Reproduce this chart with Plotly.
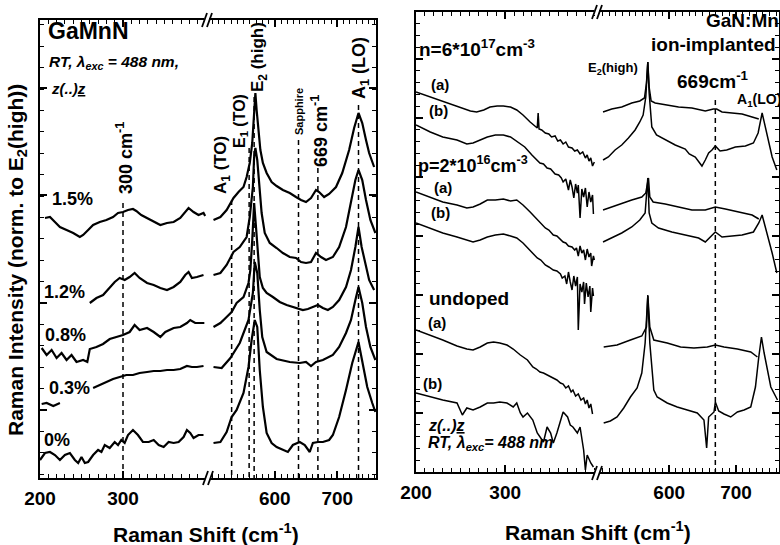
import plotly.graph_objects as go

FONT = "Liberation Sans, Arial, Helvetica, sans-serif"
W, H = 780, 545

# ---------------- Left panel: GaMnN, Mn content series ----------------
# x in cm^-1, intensity in arbitrary units (spectra offset vertically)
gm15_x1 = [206,212,218,224,232,240,248,252,258,264,272,280,288,294,300,306,312,316,322,329,337,345,353,361,369,375,379,385,391,397,399]
gm15_y1 = [260,261,256,251,248,245,241,243,248,253,256,258,261,265,266,268,269,267,263,260,256,253,255,256,260,266,270,266,263,265,262]
gm15_x2 = [502,513,523,529,534,542,550,555,560,564,567,569,571,574,577,581,587,595,603,613,624,634,642,650,658,666,671,679,687,698,708,719,727,734,740,746,751,759]
gm15_y2 = [258,261,268,275,280,286,291,301,315,335,368,385,368,345,328,315,305,296,292,288,285,281,278,276,280,288,286,281,284,291,305,328,350,365,355,338,325,311]

gm12_x1 = [260,268,276,284,290,296,302,308,314,320,329,337,345,353,361,369,375,379,383,389,397]
gm12_y1 = [175,180,183,190,196,200,198,201,205,200,195,193,190,188,191,196,203,206,200,201,203]
gm12_x2 = [502,513,523,529,534,544,555,560,565,567,569,572,575,579,584,592,603,613,624,634,642,650,658,666,674,682,693,703,714,722,729,734,740,746,753,761]
gm12_y2 = [203,205,213,221,226,231,241,261,291,321,330,318,291,265,245,235,230,225,221,220,216,215,216,225,221,218,221,231,251,278,298,308,298,278,258,245]

gm08_x1 = [202,208,214,220,226,232,238,244,252,257,260,268,276,284,292,300,308,314,320,329,337,345,351,361,369,377,381,387,398]
gm08_y1 = [130,123,128,120,125,118,123,116,118,116,129,131,134,139,141,143,146,153,148,150,146,141,146,150,151,155,158,155,155]
gm08_x2 = [502,513,523,531,539,550,558,561,564,567,570,574,576,581,587,597,608,619,629,637,645,653,661,669,677,685,693,703,714,722,729,734,739,746,751,759]
gm08_y2 = [151,155,161,166,175,181,195,208,238,275,251,215,201,190,185,181,176,173,171,170,168,169,171,173,170,168,171,178,191,208,231,251,231,211,198,188]

gm03_x1 = [202,208,216,224,None,264,272,280,288,296,304,312,320,329,337,345,353,361,369,377,383,389,397]
gm03_y1 = [74,75,72,75,None,90,93,96,99,101,103,103,105,106,107,107,108,108,109,112,111,111,112]
gm03_x2 = [502,515,529,544,558,565,568,572,576,580,587,603,624,640,650,658,666,677,693,703,714,722,729,734,740,746,753,761]
gm03_y2 = [111,110,120,135,158,185,216,205,168,141,126,119,116,115,116,112,116,118,123,131,145,158,178,191,175,151,131,118]

gm00_x1 = [200,206,212,218,224,230,236,242,246,250,254,258,264,270,274,278,284,290,294,298,302,306,312,318,324,331,337,343,349,355,361,367,373,377,381,385,391,397]
gm00_y1 = [18,25,26,23,18,23,25,18,15,21,15,16,23,28,26,33,30,36,33,38,35,43,48,43,36,36,38,33,31,36,35,36,41,48,45,40,43,43]
gm00_x2 = [502,513,523,531,539,550,558,563,568,572,576,581,587,595,603,613,621,629,640,648,656,661,669,677,687,693,703,714,724,734,740,748,756,761]
gm00_y2 = [35,36,46,61,68,85,111,138,158,151,108,71,45,35,31,28,26,33,36,33,26,35,36,36,38,43,61,88,115,136,118,91,75,66]

gm_labels = ["1.5%", "1.2%", "0.8%", "0.3%", "0%"]
gm_lines_lo = [300]
gm_lines_hi = [531, 559, 567, 638, 669, 734]
gm_lines_lo_top = [275]
gm_lines_hi_top = [278, 330, 381, 338, 310, 373]

# ---------------- Right panel: GaN:Mn ion-implanted ----------------
na_x1 = [200,216,230,246,261,268,276,283,291,298,306,313,320,328,336,337,338,341,345,349,352,356,359,362,365,368,371,375,378,381,384,387,390,392,394,396,398,400]
na_y1 = [380,375,370,365,361,360,362,365,366,366,365,362,357,350,344,359,343,342,339,338,335,336,331,332,328,330,325,324,321,322,318,320,314,317,311,314,306,310]
na_x2 = [501,514,529,544,556,563,566,568,570,573,579,594,614,634,654,666,671,679,694,709,724,734]
na_y2 = [360,363,365,369,371,374,389,410,385,371,369,367,365,364,361,363,363,360,359,358,355,353]

nb_x1 = [200,216,230,246,257,264,272,280,289,298,306,313,322,330,339,343,347,351,356,360,363,365,368,371,373,375,377,379,381,382,384,386,388,390,392,394,396,398,399]
nb_y1 = [347,340,335,332,328,329,332,335,337,337,335,331,325,317,309,308,304,303,298,297,294,290,293,282,292,285,274,288,279,287,254,283,275,284,265,280,270,277,258]
nb_x2 = [501,509,519,529,539,549,556,561,565,568,570,574,581,594,609,624,630,639,644,649,654,659,664,669,676,686,699,714,726,733,739,744,749,754,761]
nb_y2 = [312,315,322,327,334,342,350,357,375,410,379,345,337,332,327,323,318,315,311,306,312,319,322,326,321,322,325,326,329,339,359,345,329,315,302]

pa_x1 = [200,216,230,246,257,264,272,280,289,298,306,313,320,328,336,340,345,349,354,358,362,365,368,371,375,378,380,382,384,386,388,390,392,394,396,397,399,400]
pa_y1 = [280,275,270,267,264,265,268,272,272,273,271,272,267,260,252,249,244,242,237,236,232,230,229,226,225,222,224,216,226,219,222,212,223,215,219,206,216,212]
pa_x2 = [501,514,529,544,559,565,569,571,576,594,614,634,654,669,684,704,724,734]
pa_y2 = [262,265,269,272,275,279,294,275,270,268,265,262,262,265,263,260,257,253]

pb_x1 = [200,216,230,246,257,264,272,280,289,298,306,313,320,328,336,340,345,349,354,358,362,364,367,369,371,373,375,377,379,381,382,384,386,388,389,391,393,395,396,398,399]
pb_y1 = [249,244,239,235,232,230,232,235,237,238,236,234,229,222,214,212,207,205,202,201,198,194,196,188,200,190,182,196,186,195,142,188,180,190,168,189,175,186,160,184,176]
pb_x2 = [501,514,529,544,556,564,568,570,574,584,604,624,644,654,669,679,694,709,726,734,739,744,749,754,761]
pb_y2 = [230,234,239,245,252,259,294,259,249,244,240,237,234,230,240,235,236,237,240,249,257,245,232,219,199]

ua_x1 = [200,216,230,246,257,264,272,280,287,294,302,309,317,325,331,335,339,343,347,351,354,358,362,365,368,371,374,376,379,382,385,388,390,392,394,396,398]
ua_y1 = [142,137,132,126,123,122,125,129,130,129,127,123,117,112,105,103,100,99,97,95,94,92,89,88,84,86,80,82,76,78,72,74,68,72,64,68,58]
ua_x2 = [502,522,542,559,566,568,571,577,597,617,637,657,669,682,702,722,732]
ua_y2 = [125,127,132,136,145,177,145,132,129,125,124,125,127,125,123,120,115]

ub_x1 = [200,208,219,230,246,252,257,264,272,280,287,294,302,309,313,317,320,325,331,336,343,347,351,354,358,362,365,370,373,376,381,384,388,390,392,396,399]
ub_y1 = [79,77,75,72,69,57,64,62,65,69,69,70,69,65,69,59,55,59,52,39,30,45,39,29,39,52,60,55,47,45,39,45,22,2,17,9,5]
ub_x2 = [502,512,522,532,542,552,559,564,568,571,577,582,597,612,627,642,652,656,659,667,669,674,682,692,702,712,722,729,734,738,742,752,762]
ub_y2 = [49,51,55,64,75,84,99,129,176,129,82,75,69,65,62,59,52,24,55,60,70,61,58,55,60,62,65,85,115,135,119,85,72]

imp_line = [669]
imp_line_top = [372]

# ---------------- figure ----------------
fig = go.Figure()

def add(xs, ys, xa, ya, width):
    fig.add_trace(go.Scatter(x=xs, y=ys, xaxis=xa, yaxis=ya, mode="lines",
                             line=dict(color="black", width=width),
                             showlegend=False, hoverinfo="skip", connectgaps=False))

def dashed(xs, tops, xa, ya):
    for xv, tv in zip(xs, tops):
        fig.add_trace(go.Scatter(x=[xv, xv], y=[tv, 0], xaxis=xa, yaxis=ya, mode="lines",
                                 line=dict(color="black", width=1.5, dash="5px,4px"),
                                 showlegend=False, hoverinfo="skip"))

dashed(gm_lines_lo, gm_lines_lo_top, "x", "y")
dashed(gm_lines_hi, gm_lines_hi_top, "x2", "y2")
dashed(imp_line, imp_line_top, "x4", "y4")

for (a, b, c, d) in [(gm15_x1, gm15_y1, gm15_x2, gm15_y2), (gm12_x1, gm12_y1, gm12_x2, gm12_y2),
                     (gm08_x1, gm08_y1, gm08_x2, gm08_y2), (gm03_x1, gm03_y1, gm03_x2, gm03_y2),
                     (gm00_x1, gm00_y1, gm00_x2, gm00_y2)]:
    add(a, b, "x", "y", 2.2)
    add(c, d, "x2", "y2", 2.2)

for (a, b, c, d) in [(na_x1, na_y1, na_x2, na_y2), (nb_x1, nb_y1, nb_x2, nb_y2),
                     (pa_x1, pa_y1, pa_x2, pa_y2), (pb_x1, pb_y1, pb_x2, pb_y2),
                     (ua_x1, ua_y1, ua_x2, ua_y2), (ub_x1, ub_y1, ub_x2, ub_y2)]:
    add(a, b, "x3", "y3", 1.5)
    add(c, d, "x4", "y4", 1.5)

def px(v):
    return v / W

def py(v):
    return 1 - v / H

def xax(dom, rng, vals, anchor):
    return dict(domain=[px(dom[0]), px(dom[1])], range=rng, anchor=anchor, automargin=False,
                tickmode="array", tickvals=vals, ticktext=["<b>%d</b>" % v for v in vals],
                ticks="inside", ticklen=7, tickwidth=1.5, tickcolor="black",
                showline=True, linewidth=2, linecolor="black", mirror="ticks",
                showgrid=False, zeroline=False, ticklabelstandoff=2,
                tickfont=dict(family=FONT, size=19, color="black"),
                minor=dict(tickmode="linear", tick0=0, dtick=10, ticks="inside", ticklen=4,
                           tickwidth=1, tickcolor="black", showgrid=False))

def yax(dom, rng, anchor, side, vals, mdt):
    return dict(domain=[py(dom[1]), py(dom[0])], range=rng, anchor=anchor, side=side, automargin=False,
                showticklabels=False, tickmode="array", tickvals=vals,
                ticks="inside", ticklen=7, tickwidth=1.5, tickcolor="black",
                showline=True, linewidth=2, linecolor="black", mirror=False,
                showgrid=False, zeroline=False,
                minor=dict(tickmode="linear", tick0=vals[0], dtick=mdt, ticks="inside", ticklen=4,
                           tickwidth=1, tickcolor="black", showgrid=False))

ly_ticks = [68, 175, 283, 390]
ry_ticks = [0, 59, 118, 177, 236, 295, 354, 413]

fig.update_layout(
    width=W, height=H, margin=dict(l=0, r=0, t=0, b=0, pad=0, autoexpand=False),
    paper_bgcolor="white", plot_bgcolor="white", showlegend=False,
    font=dict(family=FONT, color="black"),
    xaxis=xax((40, 206), [200, 400], [200, 300], "y"),
    xaxis2=xax((206, 376), [490, 762], [600, 700], "y2"),
    yaxis=yax((20, 478), [0, 458], "x", "left", ly_ticks, 21.4),
    yaxis2=yax((20, 478), [0, 458], "x2", "right", ly_ticks, 21.4),
    xaxis3=xax((416, 597), [200, 403], [200, 300], "y3"),
    xaxis4=xax((597, 778.5), [492, 763.5], [600, 700], "y4"),
    yaxis3=yax((12, 472), [0, 460], "x3", "left", ry_ticks, 11.8),
    yaxis4=yax((12, 472), [0, 460], "x4", "right", ry_ticks, 11.8),
)

anns = []

def ann(text, x, y, size, xanchor="left", angle=0):
    anns.append(dict(text=text, x=px(x), y=py(y), xref="paper", yref="paper",
                     xanchor=xanchor, yanchor="middle", showarrow=False, textangle=angle,
                     font=dict(family=FONT, size=size, color="black")))

# axis titles
ann("<b>Raman Intensity (norm. to E<sub>2</sub>(high))</b>", 17, 260, 21, "center", -90)
ann("<b>Raman Shift (cm<sup>-1</sup>)</b>", 206, 533, 21, "center")
ann("<b>Raman Shift (cm<sup>-1</sup>)</b>", 598, 531, 21, "center")

# left panel texts
ann("<b>GaMnN</b>", 46, 31, 23)
ann("<b><i>RT, λ<sub>exc</sub> = 488 nm,</i></b>", 47, 62, 15.5)
ann("<b><i>z(..)<u>z</u></i></b>", 49, 89, 15)
for lab, (lx, ly) in zip(gm_labels, [(50, 199), (42, 292), (43, 335), (47, 388), (42, 440)]):
    ann("<b>%s</b>" % lab, lx, ly, 18)
ann("<b>300 cm<sup>-1</sup></b>", 124, 158, 18, "center", -90)
ann("<b>A<sub>1</sub> (TO)</b>", 222, 165, 17, "center", -90)
ann("<b>E<sub>1</sub> (TO)</b>", 241, 121, 16, "center", -90)
ann("<b>E<sub>2</sub> (high)</b>", 259, 57, 17, "center", -90)
ann("<b>Sapphire</b>", 299, 112, 11, "center", -90)
ann("<b>669 cm<sup>-1</sup></b>", 319, 131, 18, "center", -90)
ann("<b>A<sub>1</sub> (LO)</b>", 360, 68, 18, "center", -90)

# right panel texts
ann("<b>GaN:Mn</b>", 781, 21, 19, "right")
ann("<b>ion-implanted</b>", 778, 45, 19, "right")
ann("<b>E<sub>2</sub>(high)</b>", 613, 68, 13, "center")
ann("<b>669cm<sup>-1</sup></b>", 713, 80, 19, "center")
ann("<b>A<sub>1</sub>(LO)</b>", 759, 100, 14, "center")
ann("<b>n=6*10<sup>17</sup>cm<sup>-3</sup></b>", 417, 48, 19)
ann("<b>p=2*10<sup>16</sup>cm<sup>-3</sup></b>", 416, 165, 18)
ann("<b>undoped</b>", 427, 298, 19)
for (lab, lx, ly) in [("(a)", 429, 85), ("(b)", 427, 110), ("(a)", 432, 187), ("(b)", 429, 212),
                      ("(a)", 426, 322), ("(b)", 421, 383)]:
    ann("<b>%s</b>" % lab, lx, ly, 15)
ann("<b><i>z(..)<u>z</u></i></b>", 426, 425, 16)
ann("<b><i>RT, λ<sub>exc</sub>= 488 nm</i></b>", 426, 443, 16)

fig.update_layout(annotations=anns)

# axis break marks "//"
shapes = []
for (cx, cy) in [(207, 20), (208, 478), (597, 12), (597, 473)]:
    shapes.append(dict(type="rect", xref="paper", yref="paper", x0=px(cx - 3), x1=px(cx + 2),
                       y0=py(cy + 3), y1=py(cy - 3), fillcolor="white", line=dict(width=0), layer="above"))
    for dx in (-5, 0):
        shapes.append(dict(type="line", xref="paper", yref="paper",
                           x0=px(cx + dx), y0=py(cy + 7), x1=px(cx + dx + 5), y1=py(cy - 7),
                           line=dict(color="black", width=1.8), layer="above"))
fig.update_layout(shapes=shapes)

fig.write_html("out.html")
